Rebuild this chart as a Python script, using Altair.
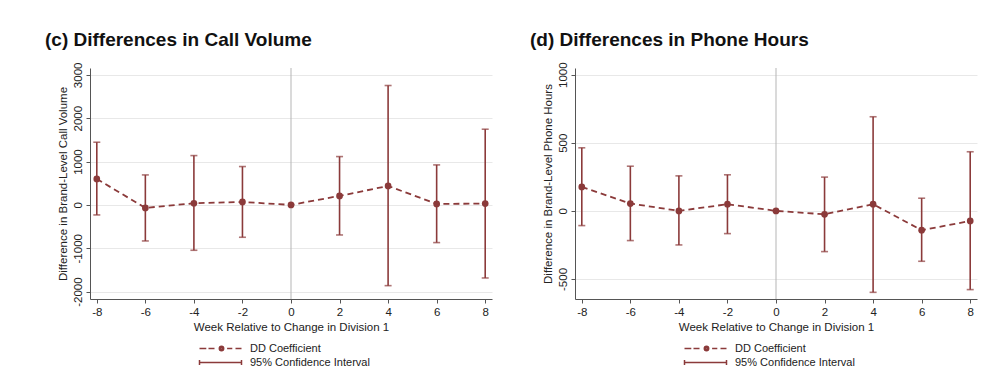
import altair as alt
import pandas as pd

# ---- data ----
weeks = [-8, -6, -4, -2, 0, 2, 4, 6, 8]

call_coef = [600, -69, 38, 69, 0, 208, 438, 23, 31]
call_lo = [-231, -831, -1046, -746, None, -693, -1862, -869, -1685]
call_hi = [1446, 692, 1138, 885, None, 1115, 2754, 923, 1746]

hours_coef = [176, 54, 0, 49, 0, -25, 49, -142, -74]
hours_lo = [-108, -218, -250, -167, None, -299, -598, -370, -578]
hours_hi = [463, 328, 257, 265, None, 248, 691, 93, 434]

call_ticks = [-2000, -1000, 0, 1000, 2000, 3000]
hours_ticks = [-500, 0, 500, 1000]
event_week = [0]

series_names = ["DD Coefficient", "95% Confidence Interval"]

COLOR = "#8b3a3a"
FONT = "Liberation Sans"

# legend symbols (custom paths, unit coords scaled by sqrt(size)/2)
path_dd = ("M-10.5,0L-8.8,0M-8.25,0L-6.75,0"
           "M-5.55,0A0.55,0.55 0 1,0 -4.45,0A0.55,0.55 0 1,0 -5.55,0Z"
           "M-5.25,0A0.25,0.25 0 1,0 -4.75,0A0.25,0.25 0 1,0 -5.25,0Z"
           "M-3.6,0L-2.3,0M-1.5,0L0,0")
path_ci = "M-10.5,-0.6L-10.5,0.6M-10.5,0L0,0M0,-0.6L0,0.6"


def panel(title, ytitle, coef, lo, hi, ydom, yticks):
    df = pd.DataFrame({"week": weeks, "coef": coef, "lo": lo, "hi": hi})
    xs = alt.Scale(domain=[-8.28, 8.28], nice=False, zero=False)
    ys = alt.Scale(domain=ydom, nice=False, zero=False)
    xax = alt.Axis(values=weeks, title="Week Relative to Change in Division 1",
                   grid=False, labelExpr="toString(datum.value)")
    yax = alt.Axis(values=yticks, title=ytitle, grid=True, labelAngle=270,
                   labelExpr="toString(datum.value)")

    vline = alt.Chart(pd.DataFrame({"w": event_week})).mark_rule(
        color="#b5b5b5", strokeWidth=1
    ).encode(x=alt.X("w:Q", scale=xs, axis=xax))

    base = alt.Chart(df)
    ci = base.transform_filter("isValid(datum.lo)")
    bars = ci.mark_rule(color=COLOR, strokeWidth=1.6).encode(
        x=alt.X("week:Q", scale=xs, axis=xax),
        y=alt.Y("lo:Q", scale=ys, axis=yax),
        y2="hi:Q",
    )
    cap_lo = ci.mark_tick(color=COLOR, orient="horizontal", size=7,
                          thickness=1.6).encode(
        x=alt.X("week:Q", scale=xs), y=alt.Y("lo:Q", scale=ys))
    cap_hi = ci.mark_tick(color=COLOR, orient="horizontal", size=7,
                          thickness=1.6).encode(
        x=alt.X("week:Q", scale=xs), y=alt.Y("hi:Q", scale=ys))
    line = base.mark_line(color=COLOR, strokeWidth=1.8, strokeDash=[6, 4]).encode(
        x=alt.X("week:Q", scale=xs), y=alt.Y("coef:Q", scale=ys, axis=yax))
    pts = base.mark_point(color=COLOR, filled=True, size=45, opacity=1).encode(
        x=alt.X("week:Q", scale=xs), y=alt.Y("coef:Q", scale=ys))

    leg = alt.Chart(pd.DataFrame({"series": series_names})).mark_point(
        opacity=0
    ).encode(
        shape=alt.Shape(
            "series:N",
            scale=alt.Scale(domain=series_names, range=[path_dd, path_ci]),
            legend=alt.Legend(
                title=None, orient="none", legendX=146, legendY=275,
                symbolSize=64, symbolStrokeColor=COLOR,
                symbolStrokeWidth=1.5, symbolOpacity=1,
                labelFont=FONT, labelFontSize=11, labelColor="#222",
                labelOffset=3, rowPadding=2,
            ),
        )
    )

    return alt.layer(vline, bars, cap_lo, cap_hi, line, pts, leg).properties(
        width=402, height=231,
        title=alt.Title(title, anchor="start", font=FONT, fontSize=19,
                        fontWeight="bold", color="#111", dx=-12, offset=12),
    )


left = panel("(c) Differences in Call Volume",
             "Difference in Brand-Level Call Volume",
             call_coef, call_lo, call_hi, [-2170, 3158], call_ticks)
right = panel("(d) Differences in Phone Hours",
              "Difference in Brand-Level Phone Hours",
              hours_coef, hours_lo, hours_hi, [-647, 1049], hours_ticks)

chart = alt.hconcat(left, right, spacing=38).resolve_scale(
    shape="independent"
).properties(
    padding={"left": 37, "top": 22, "right": 5, "bottom": 5}
).configure_view(stroke=None).configure_axis(
    labelFont=FONT, titleFont=FONT, labelFontSize=11.5, titleFontSize=11.5,
    titleFontWeight="normal", labelColor="#222", titleColor="#222",
    domainColor="#555", tickColor="#555", tickSize=4, gridColor="#e8e8e8",
    gridWidth=1, labelPadding=3, titlePadding=4,
)

chart.save("out.html", embed_options={"renderer": "svg", "actions": False})
